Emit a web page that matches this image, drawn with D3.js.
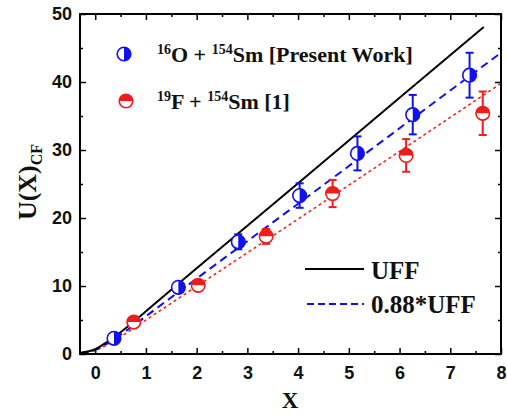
<!DOCTYPE html>
<head>
  <meta charset="utf-8">
  <script src="https://d3js.org/d3.v7.min.js"></script>
  <style>
    body { margin: 0; background: #fff; }
    .tick text { font-family: "Liberation Sans", Arial, sans-serif; font-weight: bold; font-size: 18px; }
    .lbl { font-family: "Liberation Serif", "Times New Roman", serif; font-weight: bold; }
  </style>
</head>
<body>
  <svg width="507" height="415"></svg>
  <script>
  // data
  var oX = [0.37, 1.64, 2.82, 4.03, 5.17, 6.26, 7.38];
  var oU = [2.3, 9.8, 16.5, 23.3, 29.5, 35.2, 41.0];
  var oErr = [0.6, 0.6, 1.1, 1.8, 2.5, 2.9, 3.3];

  var fX = [0.76, 2.03, 3.37, 4.68, 6.13, 7.64];
  var fU = [4.7, 10.1, 17.3, 23.6, 29.2, 35.4];
  var fErr = [0.5, 0.5, 1.1, 2.0, 2.4, 3.2];

  var uffX = [-0.3, 0, 0.25, 0.5, 0.75, 1, 2, 4, 6, 7.66];
  var uffY = [0.15, 0.7, 1.85, 3.2, 4.7, 6.3, 12.6, 25.1, 37.7, 48.1];
  var uff88X = [-0.3, 0, 0.25, 0.5, 0.75, 1, 2, 4, 6, 8];
  var uff88Y = [0.13, 0.6, 1.6, 2.85, 4.15, 5.55, 11.1, 22.1, 33.2, 44.3];
  var redFitX = [-0.3, 0, 0.5, 1, 2, 4, 6, 8];
  var redFitY = [0.12, 0.55, 2.55, 5.0, 9.95, 19.85, 29.8, 39.8];

  var xTicks = [0, 1, 2, 3, 4, 5, 6, 7, 8];
  var yTicks = [0, 10, 20, 30, 40, 50];

  var svg = d3.select("svg");
  var x = d3.scaleLinear().domain([-0.3, 8]).range([80, 501]);
  var y = d3.scaleLinear().domain([0, 50]).range([354, 14]);

  var blue = "#1010f0", red = "#f01c1c";

  svg.append("clipPath").attr("id", "clip").append("rect")
    .attr("x", 80).attr("y", 14).attr("width", 421).attr("height", 340);

  // axes, ticks inward on all sides
  var minorX = d3.range(-0.5, 8.01, 0.5).filter(function(d){ return d >= -0.3 && d % 1 != 0; });
  var minorY = d3.range(5, 50, 10);

  function axisG(axis, tr) {
    var g = svg.append("g").attr("transform", tr).call(axis);
    g.select(".domain").remove();
    g.selectAll("line").attr("stroke", "#000").attr("stroke-width", 1.5);
    return g;
  }
  axisG(d3.axisBottom(x).tickValues(xTicks).tickSize(-6).tickPadding(12).tickFormat(d3.format("d")), "translate(0,354)");
  axisG(d3.axisBottom(x).tickValues(minorX).tickSize(-3).tickFormat(""), "translate(0,354)");
  axisG(d3.axisTop(x).tickValues(xTicks).tickSize(-6).tickFormat(""), "translate(0,14)");
  axisG(d3.axisTop(x).tickValues(minorX).tickSize(-3).tickFormat(""), "translate(0,14)");
  axisG(d3.axisLeft(y).tickValues(yTicks).tickSize(-6).tickPadding(8), "translate(80,0)");
  axisG(d3.axisLeft(y).tickValues(minorY).tickSize(-3).tickFormat(""), "translate(80,0)");
  axisG(d3.axisRight(y).tickValues(yTicks).tickSize(-6).tickFormat(""), "translate(501,0)");
  axisG(d3.axisRight(y).tickValues(minorY).tickSize(-3).tickFormat(""), "translate(501,0)");
  svg.selectAll(".tick text").attr("fill", "#111");

  // lines
  var line = d3.line().curve(d3.curveMonotoneX)
    .x(function(d){ return x(d[0]); }).y(function(d){ return y(d[1]); });
  var lines = svg.append("g").attr("clip-path", "url(#clip)");
  lines.append("path").datum(d3.zip(redFitX, redFitY)).attr("d", line)
    .attr("fill", "none").attr("stroke", red).attr("stroke-width", 1.5).attr("stroke-dasharray", "3,3");
  lines.append("path").datum(d3.zip(uff88X, uff88Y)).attr("d", line)
    .attr("fill", "none").attr("stroke", blue).attr("stroke-width", 2).attr("stroke-dasharray", "8,5");
  lines.append("path").datum(d3.zip(uffX, uffY)).attr("d", line)
    .attr("fill", "none").attr("stroke", "#000").attr("stroke-width", 2);

  // half-filled circle marker
  var r = 6.8;
  function marker(g, cx, cy, col, half) {
    g.append("circle").attr("cx", cx).attr("cy", cy).attr("r", r)
      .attr("fill", "#fff").attr("stroke", col).attr("stroke-width", 1.6);
    var arc = d3.arc().innerRadius(0).outerRadius(r);
    var a = half == "right" ? arc({startAngle: 0, endAngle: Math.PI}) : arc({startAngle: -Math.PI/2, endAngle: Math.PI/2});
    g.append("path").attr("d", a).attr("transform", "translate(" + cx + "," + cy + ")").attr("fill", col);
  }

  function series(xs, us, es, col, half) {
    var g = svg.append("g");
    xs.forEach(function(v, i) {
      var cx = x(v), top = y(us[i] + es[i]), bot = y(us[i] - es[i]);
      g.append("line").attr("x1", cx).attr("x2", cx).attr("y1", top).attr("y2", bot)
        .attr("stroke", col).attr("stroke-width", 2);
      [top, bot].forEach(function(yy) {
        g.append("line").attr("x1", cx - 4).attr("x2", cx + 4).attr("y1", yy).attr("y2", yy)
          .attr("stroke", col).attr("stroke-width", 2);
      });
      marker(g, cx, y(us[i]), col, half);
    });
  }
  series(fX, fU, fErr, red, "top");
  series(oX, oU, oErr, blue, "right");

  // frame
  svg.append("rect").attr("x", 80).attr("y", 14).attr("width", 421).attr("height", 340)
    .attr("fill", "none").attr("stroke", "#000").attr("stroke-width", 2);

  // legend 1
  var leg = svg.append("g");
  marker(leg, 124, 54, blue, "right");
  marker(leg, 126, 101, red, "top");
  var t1 = leg.append("text").attr("class", "lbl").attr("x", 157).attr("y", 62).attr("font-size", 22).attr("fill", "#111");
  t1.append("tspan").attr("font-size", 14).attr("dy", -8).text("16");
  t1.append("tspan").attr("dy", 8).text("O + ");
  t1.append("tspan").attr("font-size", 14).attr("dy", -8).text("154");
  t1.append("tspan").attr("dy", 8).text("Sm [Present Work]");
  var t2 = leg.append("text").attr("class", "lbl").attr("x", 157).attr("y", 109).attr("font-size", 22).attr("fill", "#111");
  t2.append("tspan").attr("font-size", 14).attr("dy", -8).text("19");
  t2.append("tspan").attr("dy", 8).text("F + ");
  t2.append("tspan").attr("font-size", 14).attr("dy", -8).text("154");
  t2.append("tspan").attr("dy", 8).text("Sm [1]");

  // legend 2
  svg.append("line").attr("x1", 305).attr("x2", 364).attr("y1", 269).attr("y2", 269)
    .attr("stroke", "#000").attr("stroke-width", 2);
  svg.append("line").attr("x1", 307).attr("x2", 364).attr("y1", 304).attr("y2", 304)
    .attr("stroke", blue).attr("stroke-width", 2).attr("stroke-dasharray", "7,4");
  svg.append("text").attr("class", "lbl").attr("x", 371).attr("y", 279).attr("font-size", 25).attr("fill", "#111").text("UFF");
  svg.append("text").attr("class", "lbl").attr("x", 371).attr("y", 313).attr("font-size", 25).attr("fill", "#111").text("0.88*UFF");

  // axis titles
  svg.append("text").attr("class", "lbl").attr("x", 290).attr("y", 408).attr("font-size", 23)
    .attr("text-anchor", "middle").attr("fill", "#111").text("X");
  var yt = svg.append("text").attr("class", "lbl").attr("transform", "translate(36,182) rotate(-90)")
    .attr("text-anchor", "middle").attr("font-size", 26).attr("fill", "#111");
  yt.append("tspan").text("U(X)");
  yt.append("tspan").attr("font-size", 16).attr("dy", 6).text("CF");
  </script>
</body>
